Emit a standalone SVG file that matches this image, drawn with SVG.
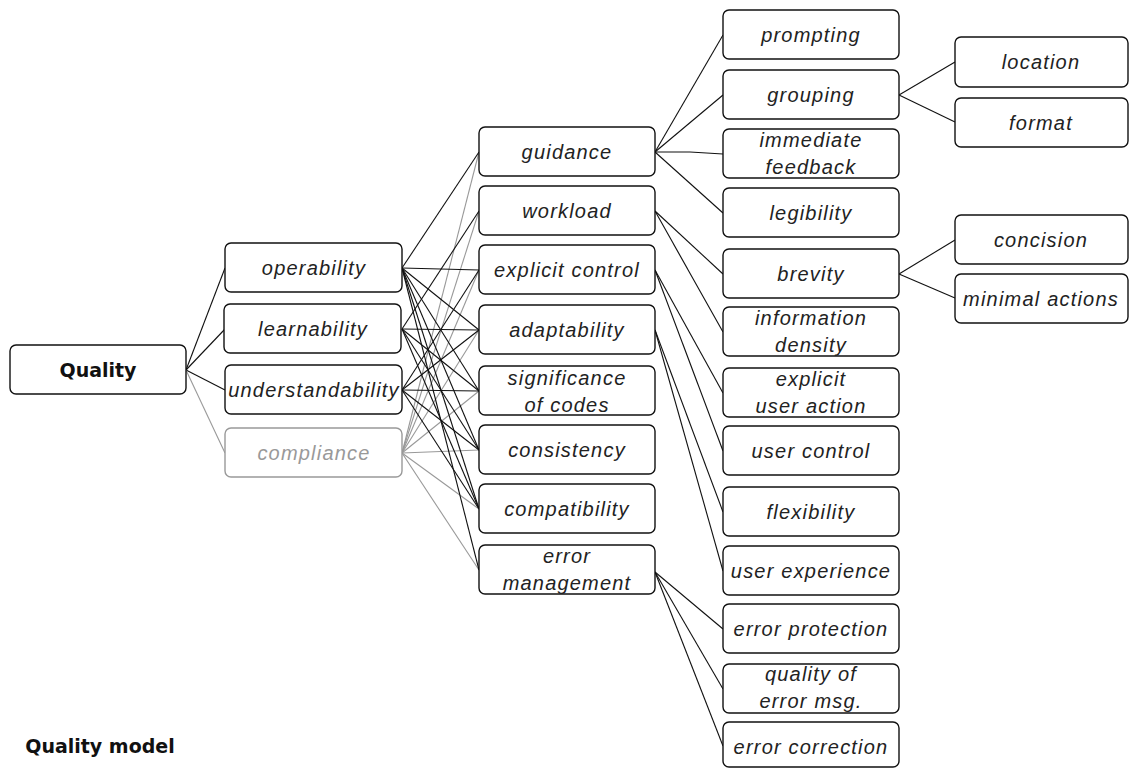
<svg xmlns="http://www.w3.org/2000/svg" width="1129" height="769" viewBox="0 0 1129 769">
<style>
.box{fill:#fff;stroke:#111;stroke-width:1.4}
.gbox{fill:#fff;stroke:#999;stroke-width:1.4}
.t{font-family:"Liberation Sans",Arial,sans-serif;font-style:italic;font-size:20px;letter-spacing:1.2px;fill:#222;text-anchor:middle}
.gt{fill:#999}
.b{font-family:"DejaVu Sans",Verdana,sans-serif;font-weight:bold;font-size:19px;fill:#111;text-anchor:middle}
.c line,.c polyline{stroke:#111;stroke-width:1.1;fill:none}
.c .g{stroke:#999}
</style>
<rect width="1129" height="769" fill="#fff"/>
<g class="c" id="connectors">
<line x1="186" y1="370" x2="225" y2="268"/>
<line x1="186" y1="370" x2="225" y2="329"/>
<line x1="186" y1="370" x2="225" y2="390"/>
<line class="g" x1="186" y1="370" x2="225" y2="453"/>
<line class="g" x1="402" y1="453" x2="479" y2="152"/>
<line class="g" x1="402" y1="453" x2="479" y2="211"/>
<line class="g" x1="402" y1="453" x2="479" y2="270"/>
<line class="g" x1="402" y1="453" x2="479" y2="330"/>
<line class="g" x1="402" y1="453" x2="479" y2="391"/>
<line class="g" x1="402" y1="453" x2="479" y2="450"/>
<line class="g" x1="402" y1="453" x2="479" y2="509"/>
<line class="g" x1="402" y1="453" x2="479" y2="570"/>
<line x1="402" y1="268" x2="479" y2="152"/>
<line x1="402" y1="268" x2="479" y2="270"/>
<line x1="402" y1="268" x2="479" y2="330"/>
<line x1="402" y1="268" x2="479" y2="391"/>
<line x1="402" y1="268" x2="479" y2="450"/>
<line x1="402" y1="268" x2="479" y2="509"/>
<line x1="402" y1="268" x2="479" y2="570"/>
<line x1="402" y1="329" x2="479" y2="211"/>
<line x1="402" y1="329" x2="479" y2="330"/>
<line x1="402" y1="329" x2="479" y2="391"/>
<line x1="402" y1="329" x2="479" y2="450"/>
<line x1="402" y1="329" x2="479" y2="509"/>
<line x1="402" y1="390" x2="479" y2="270"/>
<line x1="402" y1="390" x2="479" y2="330"/>
<line x1="402" y1="390" x2="479" y2="391"/>
<line x1="402" y1="390" x2="479" y2="450"/>
<line x1="402" y1="390" x2="479" y2="509"/>
<line x1="655" y1="152" x2="723" y2="35"/>
<line x1="655" y1="152" x2="723" y2="95"/>
<polyline points="655,152 690,152 723,154"/>
<line x1="655" y1="152" x2="723" y2="213"/>
<line x1="655" y1="211" x2="723" y2="274"/>
<line x1="655" y1="211" x2="723" y2="332"/>
<line x1="655" y1="270" x2="723" y2="393"/>
<line x1="655" y1="270" x2="723" y2="451"/>
<line x1="655" y1="330" x2="723" y2="512"/>
<line x1="655" y1="330" x2="723" y2="571"/>
<line x1="655" y1="572" x2="723" y2="629"/>
<line x1="655" y1="572" x2="723" y2="689"/>
<line x1="655" y1="572" x2="723" y2="746"/>
<line x1="899" y1="95" x2="955" y2="62"/>
<line x1="899" y1="95" x2="955" y2="122"/>
<line x1="899" y1="274" x2="955" y2="240"/>
<line x1="899" y1="274" x2="955" y2="298"/>
</g>
<g id="quality"><rect class="box" x="10" y="345" width="176" height="49" rx="6"/><text class="b" x="98" y="377">Quality</text></g>
<g id="operability"><rect class="box" x="225" y="243" width="177" height="49" rx="6"/><text class="t" x="314" y="275">operability</text></g>
<g id="learnability"><rect class="box" x="224" y="304" width="177" height="49" rx="6"/><text class="t" x="313" y="336">learnability</text></g>
<g id="understandability"><rect class="box" x="225" y="365" width="177" height="49" rx="6"/><text class="t" x="314" y="397">understandability</text></g>
<g id="compliance"><rect class="gbox" x="225" y="428" width="177" height="49" rx="6"/><text class="t gt" x="314" y="460">compliance</text></g>
<g id="guidance"><rect class="box" x="479" y="127" width="176" height="49" rx="6"/><text class="t" x="567" y="159">guidance</text></g>
<g id="workload"><rect class="box" x="479" y="186" width="176" height="49" rx="6"/><text class="t" x="567" y="218">workload</text></g>
<g id="explicit-control"><rect class="box" x="479" y="245" width="176" height="49" rx="6"/><text class="t" x="567" y="277">explicit control</text></g>
<g id="adaptability"><rect class="box" x="479" y="305" width="176" height="49" rx="6"/><text class="t" x="567" y="337">adaptability</text></g>
<g id="significance-of-codes"><rect class="box" x="479" y="366" width="176" height="49" rx="6"/><text class="t" x="567" y="385">significance</text><text class="t" x="567" y="412">of codes</text></g>
<g id="consistency"><rect class="box" x="479" y="425" width="176" height="49" rx="6"/><text class="t" x="567" y="457">consistency</text></g>
<g id="compatibility"><rect class="box" x="479" y="484" width="176" height="49" rx="6"/><text class="t" x="567" y="516">compatibility</text></g>
<g id="error-management"><rect class="box" x="479" y="545" width="176" height="49" rx="6"/><text class="t" x="567" y="563">error</text><text class="t" x="567" y="590">management</text></g>
<g id="prompting"><rect class="box" x="723" y="10" width="176" height="49" rx="6"/><text class="t" x="811" y="42">prompting</text></g>
<g id="grouping"><rect class="box" x="723" y="70" width="176" height="49" rx="6"/><text class="t" x="811" y="102">grouping</text></g>
<g id="immediate-feedback"><rect class="box" x="723" y="129" width="176" height="49" rx="6"/><text class="t" x="811" y="147">immediate</text><text class="t" x="811" y="174">feedback</text></g>
<g id="legibility"><rect class="box" x="723" y="188" width="176" height="49" rx="6"/><text class="t" x="811" y="220">legibility</text></g>
<g id="brevity"><rect class="box" x="723" y="249" width="176" height="49" rx="6"/><text class="t" x="811" y="281">brevity</text></g>
<g id="information-density"><rect class="box" x="723" y="307" width="176" height="49" rx="6"/><text class="t" x="811" y="325">information</text><text class="t" x="811" y="352">density</text></g>
<g id="explicit-user-action"><rect class="box" x="723" y="368" width="176" height="49" rx="6"/><text class="t" x="811" y="386">explicit</text><text class="t" x="811" y="413">user action</text></g>
<g id="user-control"><rect class="box" x="723" y="426" width="176" height="49" rx="6"/><text class="t" x="811" y="458">user control</text></g>
<g id="flexibility"><rect class="box" x="723" y="487" width="176" height="49" rx="6"/><text class="t" x="811" y="519">flexibility</text></g>
<g id="user-experience"><rect class="box" x="723" y="546" width="176" height="49" rx="6"/><text class="t" x="811" y="578">user experience</text></g>
<g id="error-protection"><rect class="box" x="723" y="604" width="176" height="49" rx="6"/><text class="t" x="811" y="636">error protection</text></g>
<g id="quality-of-error-msg"><rect class="box" x="723" y="664" width="176" height="49" rx="6"/><text class="t" x="811" y="681">quality of</text><text class="t" x="811" y="708">error msg.</text></g>
<g id="error-correction"><rect class="box" x="723" y="722" width="176" height="45" rx="6"/><text class="t" x="811" y="754">error correction</text></g>
<g id="location"><rect class="box" x="955" y="37" width="173" height="50" rx="6"/><text class="t" x="1041" y="69">location</text></g>
<g id="format"><rect class="box" x="955" y="98" width="173" height="49" rx="6"/><text class="t" x="1041" y="130">format</text></g>
<g id="concision"><rect class="box" x="955" y="215" width="173" height="49" rx="6"/><text class="t" x="1041" y="247">concision</text></g>
<g id="minimal-actions"><rect class="box" x="955" y="274" width="173" height="49" rx="6"/><text class="t" x="1041" y="306">minimal actions</text></g>
<text class="b" x="100" y="753">Quality model</text>
</svg>
